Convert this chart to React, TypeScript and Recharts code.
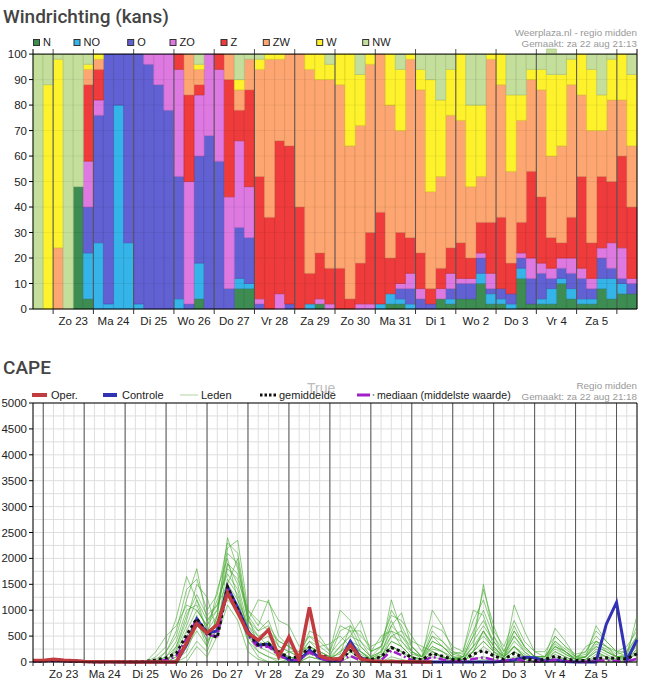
import React from 'react';
import { BarChart, Bar, XAxis, YAxis, ReferenceLine, LineChart, Line, CartesianGrid } from 'recharts';

// ---------- shared ----------
const dayLabels = ['Zo 23', 'Ma 24', 'Di 25', 'Wo 26', 'Do 27', 'Vr 28', 'Za 29', 'Zo 30', 'Ma 31', 'Di 1', 'Wo 2', 'Do 3', 'Vr 4', 'Za 5'];

// ---------- Windrichting (kans), 60 six-hour bars, % of members ----------
const dirKeys = ['N', 'NO', 'O', 'ZO', 'Z', 'ZW', 'W', 'NW'];
const dirN = [0,0,0,0,48,4,0,0,0,0, 0,0,0,0,0,0,4,0,0,0, 8,8,0,0,0,0,0,0,2,0, 0,0,0,0,0,2,2,0,0,0, 4,2,4,4,10,2,2,0,12,2, 2,2,10,4,2,2,8,4,6,6];
const dirNO = [0,0,0,0,0,18,26,2,80,26, 2,0,0,0,4,0,14,0,0,0, 4,2,0,0,0,0,0,2,0,0, 0,0,0,0,2,4,2,2,0,0, 0,2,0,0,4,4,2,2,4,0, 2,6,2,4,2,2,4,8,4,0];
const dirO = [0,0,0,0,0,18,50,98,20,74, 98,96,88,78,48,2,42,68,58,8, 20,18,2,0,0,2,0,0,0,0, 0,0,0,0,0,0,4,6,4,2, 0,4,6,6,6,2,4,4,4,10, 10,4,4,6,8,4,8,4,2,4];
const dirZO = [0,0,0,0,0,18,6,0,0,0, 0,4,12,22,42,48,24,32,36,36, 34,20,2,0,6,0,0,0,2,2, 0,0,2,2,0,0,2,6,4,0, 4,6,2,2,2,6,0,0,2,8, 4,4,4,6,4,4,4,10,12,2];
const dirZ = [0,0,0,0,0,30,12,0,0,0, 0,0,0,0,6,34,4,0,6,46, 12,38,48,36,60,62,40,12,18,14, 16,4,16,28,36,14,20,14,14,6, 8,10,14,8,12,20,28,12,12,34, 26,12,6,16,36,14,28,24,36,28];
const dirZW = [0,0,24,0,0,6,4,0,0,0, 0,0,0,0,0,16,6,0,0,10, 8,12,42,62,32,36,60,80,68,74, 72,60,54,66,62,60,40,70,64,38, 36,52,48,28,18,64,52,36,40,36, 42,32,38,52,32,44,18,32,22,24];
const dirW = [0,88,74,0,0,2,2,0,0,0, 0,0,0,0,0,0,2,0,0,0, 4,0,4,2,2,0,0,6,10,6, 12,36,20,4,0,20,24,2,8,44, 30,18,26,32,28,2,12,30,10,4, 8,32,28,10,16,24,14,16,18,28];
const dirNW = [100,12,2,100,52,4,0,0,0,0, 0,0,0,0,0,0,4,0,0,0, 10,2,2,0,0,0,0,0,0,4, 0,0,8,0,0,0,6,0,6,10, 18,6,0,20,20,0,0,16,16,6, 6,10,8,2,0,6,16,2,0,8];

const dirColors = ['#3d8c52', '#34b4e8', '#6161d4', '#de79e2', '#ef3b3b', '#fea671', '#fdf22c', '#c4df9c'];
const dirStrokes = ['#2f7040', '#2690c0', '#4a4ab0', '#b860bb', '#c42a2a', '#d88a58', '#d8cf1c', '#a4bd80'];
const dirSeries = [dirN, dirNO, dirO, dirZO, dirZ, dirZW, dirW, dirNW];

const windData = dirN.map((_, i) => {
  const row: any = { i, pos: i + 0.5 };
  dirKeys.forEach((k, j) => { row[k] = dirSeries[j][i]; });
  return row;
});

// ---------- CAPE, 60 six-hour points from za 22 18:00 ----------
const capeOper = [30,30,55,35,25,10,5,5,5,0, 0,0,0,0,0,370,740,560,720,1330, 950,560,420,620,100,480,40,1055,120,60, 60,330,60,20,10,10,5,5,0,0, null,null,null,null,null,null,null,null,null,null, null,null,null,null,null,null,null,null,null,null];
const capeControl = [25,25,45,30,20,10,5,5,5,0, 0,0,0,0,0,330,830,560,600,1450, 1050,600,330,340,170,40,30,230,80,20, 30,400,80,20,10,10,5,0,0,0, 0,0,0,0,0,0,20,40,90,80, 20,40,10,0,0,0,730,1150,25,430];
const capeMean = [20,20,30,20,15,10,5,5,5,5, 5,10,40,80,170,520,840,560,470,1450, 1010,560,330,350,200,80,100,280,140,70, 40,220,80,50,100,280,200,80,40,170, 110,50,40,150,220,120,50,170,70,30, 50,110,60,30,30,70,80,70,60,160];
const capeMedian = [15,15,25,15,10,5,0,0,0,0, 0,0,10,40,110,450,820,520,500,1400, 980,520,280,300,130,40,40,190,70,30, 20,120,30,20,30,220,130,30,10,100, 50,10,10,60,90,40,10,60,20,10, 10,40,20,5,5,30,30,20,10,60];

const member01 = [20,20,40,30,20,10,5,0,0,0, 0,0,100,300,850,1650,1200,600,900,2400, 1800,900,600,800,300,200,100,400,200,100, 150,700,300,100,200,1200,600,200,50,400, 300,100,50,300,1500,500,100,300,100,0, 50,300,150,50,50,200,100,50,100,300];
const member02 = [30,25,50,30,20,10,0,0,0,0, 0,0,50,200,500,1200,1800,800,1000,2200, 2350,1000,700,1200,500,300,200,300,150,50, 100,400,200,80,150,700,950,300,100,1000, 700,200,100,500,1400,700,200,600,300,100, 100,650,400,100,100,300,200,100,150,500];
const member03 = [20,20,40,20,20,10,5,0,0,0, 0,0,30,100,300,800,1500,1250,600,1900, 1500,700,400,300,200,100,50,600,500,200, 1000,800,400,100,300,800,400,150,100,600, 400,150,200,1000,900,300,50,1100,600,200, 100,400,200,50,100,700,400,200,100,900];
const member04 = [10,15,30,20,10,5,0,0,0,0, 0,0,0,50,200,600,1000,700,1200,1700, 1400,600,300,400,100,500,100,200,100,50, 300,500,800,200,500,600,300,100,50,300, 200,50,100,400,700,400,100,500,200,50, 50,200,100,20,300,400,300,100,50,400];
const member05 = [40,30,60,40,30,10,5,5,5,0, 0,0,0,0,100,400,900,400,800,1500, 2000,800,1200,1150,800,700,300,500,300,350, 500,300,200,50,100,500,600,400,300,200, 100,50,100,200,600,200,100,300,100,0, 0,500,300,150,200,500,300,200,300,600];
const member06 = [20,20,40,30,20,10,5,0,0,0, 0,0,0,0,50,200,700,500,1400,2000, 1200,500,200,100,50,100,50,200,100,50, 200,300,100,50,100,300,200,100,50,150, 100,50,50,100,300,150,50,200,50,0, 0,100,50,0,0,100,50,0,50,150];
const member07 = [20,20,40,30,20,10,5,0,0,0, 0,0,0,30,150,500,800,400,600,1300, 1000,400,100,0,0,0,0,100,50,0, 0,200,50,0,0,100,50,0,0,100, 50,0,0,50,100,50,0,100,50,0, 0,50,0,0,0,50,0,0,0,50];
const member08 = [30,30,50,30,20,10,5,0,0,0, 0,0,0,0,0,0,300,100,500,1100, 800,200,50,0,0,0,0,0,0,0, 0,100,0,0,0,50,0,0,0,0, 0,0,0,0,50,0,0,0,0,0, 0,0,0,0,0,0,0,0,0,0];
const member09 = [20,20,40,30,20,10,5,0,0,0, 0,0,0,0,300,900,1300,900,1100,1800, 1600,1000,800,600,400,300,100,300,200,100, 600,700,500,300,400,900,800,500,200,700, 600,300,200,800,1200,600,300,800,400,200, 200,500,300,100,200,600,400,200,200,700];
const member10 = [20,20,40,30,20,10,5,0,0,0, 0,0,0,100,400,1000,1100,600,700,1600, 1300,600,400,500,200,100,50,200,100,50, 200,400,300,100,200,500,400,200,100,400, 300,100,100,300,600,300,100,400,200,50, 50,300,200,50,100,300,200,100,100,400];
const member11 = [20,20,40,30,20,10,5,0,0,0, 0,0,0,0,100,300,600,300,900,2100, 1900,800,500,300,100,200,100,300,200,100, 300,500,400,200,300,1000,700,300,100,500, 400,200,150,600,1000,500,200,700,300,100, 100,400,250,100,150,400,300,150,200,500];
const member12 = [20,20,40,30,20,10,5,0,0,0, 0,0,0,0,0,100,400,200,700,1400, 1100,400,200,100,0,50,0,100,50,0, 50,200,100,0,50,300,200,50,0,200, 100,0,0,200,400,200,50,200,100,0, 0,200,100,0,50,200,100,0,0,200];
const member13 = [20,20,40,30,20,10,5,0,0,0, 0,0,200,500,700,1100,1000,700,1000,1900, 1700,800,600,700,400,300,150,400,300,150, 400,600,600,200,300,700,500,300,100,500, 300,150,100,500,800,400,150,500,250,100, 100,350,200,80,100,350,250,100,100,450];
const member14 = [20,20,40,30,20,10,5,0,0,0, 0,0,0,200,600,1400,1600,1000,1300,2300, 2100,900,300,200,100,100,50,150,100,50, 100,250,150,50,100,400,300,100,50,250, 200,100,50,300,500,250,100,300,150,50, 50,250,150,50,50,250,150,50,50,250];
const member15 = [25,25,45,30,20,10,5,0,0,0, 0,0,0,0,250,700,1200,800,1100,1500, 1200,700,500,600,300,200,200,500,400,200, 700,600,200,50,200,600,500,200,100,300, 200,50,50,200,600,300,100,600,300,100, 100,300,200,50,100,400,200,100,100,350];
const member16 = [20,20,40,30,20,10,5,0,0,0, 0,0,0,0,0,300,800,300,900,1200, 1000,500,300,400,200,50,0,200,100,0, 100,300,200,50,100,400,300,100,0,200, 100,50,0,200,400,200,50,300,100,0, 0,150,50,0,0,150,100,0,0,250];

const members = [member01, member02, member03, member04, member05, member06, member07, member08,
  member09, member10, member11, member12, member13, member14, member15, member16];

const capeData = capeControl.map((_, i) => {
  const row: any = { t: i, oper: capeOper[i], control: capeControl[i], mean: capeMean[i], median: capeMedian[i] };
  members.forEach((m, j) => { row['m' + j] = m[i]; });
  return row;
});

// ---------- layout ----------
const FONT = '"Liberation Sans", Arial, sans-serif';
const TITLE_FONT = 'Roboto, "Noto Sans", sans-serif';

const windTicks = Array.from({ length: 29 }, (_, k) => 2 + 2 * k); // 2..58
const windMidnights = Array.from({ length: 15 }, (_, k) => 2 + 4 * k);
const capeTicks = Array.from({ length: 60 }, (_, k) => k);
const capeMidnights = Array.from({ length: 15 }, (_, k) => 1 + 4 * k);
const pctTicks = [0, 10, 20, 30, 40, 50, 60, 70, 80, 90, 100];
const capeYTicks = [0, 500, 1000, 1500, 2000, 2500, 3000, 3500, 4000, 4500, 5000];
const capeGridY = Array.from({ length: 21 }, (_, k) => k * 250);

const WindTick = (props: any) => {
  const { x, y, payload } = props;
  const v = payload.value;
  const ay = y - 5;
  if ((v - 2) % 4 === 0) {
    return <line x1={x} y1={ay} x2={x} y2={ay + 5} stroke="#333" strokeWidth={1} />;
  }
  const d = (v - 4) / 4;
  return (
    <text x={x} y={ay + 16} textAnchor="middle" fontSize={11.5} fill="#222" fontFamily={FONT}>
      {dayLabels[d]}
    </text>
  );
};

const CapeTick = (props: any) => {
  const { x, y, payload } = props;
  const v = payload.value;
  const ay = y - 5;
  const isNoon = (v - 3) % 4 === 0 && v >= 3 && v <= 55;
  return (
    <g>
      <line x1={x} y1={ay} x2={x} y2={ay + 4} stroke="#333" strokeWidth={1} />
      {isNoon ? (
        <text x={x} y={ay + 16} textAnchor="middle" fontSize={11.5} fill="#222" fontFamily={FONT}>
          {dayLabels[(v - 3) / 4]}
        </text>
      ) : null}
    </g>
  );
};

const windLegendX = [33.5, 74, 127.7, 170, 221, 263.3, 316.7, 362.7];

export default function App() {
  return (
    <div style={{ position: 'absolute', left: 0, top: 0, width: 650, height: 688, background: '#fff', overflow: 'hidden' }}>
      <div style={{ position: 'absolute', left: 0, top: 0 }}>
        <BarChart width={650} height={340} data={windData} margin={{ top: 49, right: 13, bottom: 9, left: 0 }}
          barCategoryGap={0} barGap={0}>
          <XAxis xAxisId="time" dataKey="pos" type="number" domain={[0, 60]} allowDataOverflow
            ticks={windTicks} interval={0} tickSize={5} tickMargin={0} tickLine={false}
            axisLine={{ stroke: '#000' }} height={22} tick={WindTick} />
          <XAxis xAxisId="cat" dataKey="i" hide height={0} />
          <YAxis domain={[0, 100]} ticks={pctTicks} interval={0} width={33} tickSize={4} tickMargin={2}
            axisLine={{ stroke: '#000' }} tickLine={{ stroke: '#000' }}
            tick={{ fontSize: 11.5, fill: '#222', fontFamily: FONT }} />
          {dirKeys.map((k, j) => (
            <Bar key={k} xAxisId="cat" dataKey={k} stackId="a" fill={dirColors[j]} stroke={dirStrokes[j]}
              strokeWidth={0.6} isAnimationActive={false} />
          ))}
          {pctTicks.slice(1, 10).map((v) => (
            <ReferenceLine key={'g' + v} xAxisId="time" y={v} stroke="rgba(0,0,0,0.06)" />
          ))}
          {windMidnights.map((v) => (
            <ReferenceLine key={'d' + v} xAxisId="time" x={v} stroke="#555" strokeWidth={1} />
          ))}
          <ReferenceLine xAxisId="time" y={100} stroke="#000" />
          <ReferenceLine xAxisId="time" x={60} stroke="#000" />
        </BarChart>
      </div>

      <div style={{ position: 'absolute', left: 0, top: 345 }}>
        <LineChart width={650} height={343} data={capeData} margin={{ top: 58, right: 13, bottom: 4, left: 0 }}>
          <CartesianGrid stroke="#dedede" horizontalValues={capeGridY} verticalValues={capeTicks} />
          <XAxis dataKey="t" type="number" domain={[0, 59]} ticks={capeTicks} interval={0}
            tickSize={5} tickMargin={0} tickLine={false} axisLine={{ stroke: '#000' }} height={22} tick={CapeTick} />
          <YAxis domain={[0, 5000]} ticks={capeYTicks} interval={0} width={33} tickSize={4} tickMargin={2}
            axisLine={{ stroke: '#000' }} tickLine={{ stroke: '#000' }}
            tick={{ fontSize: 11.5, fill: '#222', fontFamily: FONT }} />
          {capeMidnights.map((v) => (
            <ReferenceLine key={'c' + v} x={v} stroke="#555" strokeWidth={1} />
          ))}
          <ReferenceLine y={5000} stroke="#000" />
          <ReferenceLine x={59} stroke="#000" />
          {members.map((_, j) => (
            <Line key={'m' + j} type="linear" dataKey={'m' + j} stroke="#45a82e" strokeOpacity={0.6}
              strokeWidth={1} dot={false} isAnimationActive={false} />
          ))}
          <Line type="linear" dataKey="control" stroke="#3232b4" strokeWidth={3} dot={false} isAnimationActive={false} />
          <Line type="linear" dataKey="median" stroke="#a020c8" strokeWidth={2.5} strokeDasharray="8 3 2 3"
            dot={false} isAnimationActive={false} />
          <Line type="linear" dataKey="mean" stroke="#111" strokeWidth={3} strokeDasharray="3 3" dot={false}
            isAnimationActive={false} />
          <Line type="linear" dataKey="oper" stroke="#c23b3e" strokeWidth={3.5} dot={false} isAnimationActive={false}
            connectNulls={false} />
        </LineChart>
      </div>

      <svg width={650} height={688} style={{ position: 'absolute', left: 0, top: 0, pointerEvents: 'none' }}>
        <text x={3} y={22.5} fontSize={19} fontWeight={500} fill="#444" fontFamily={TITLE_FONT}>Windrichting (kans)</text>
        <text x={637} y={36} textAnchor="end" fontSize={9.8} fill="#999" fontFamily={FONT}>Weerplaza.nl - regio midden</text>
        <text x={637} y={46.5} textAnchor="end" fontSize={9.8} fill="#999" fontFamily={FONT}>Gemaakt: za 22 aug 21:13</text>
        {dirKeys.map((k, j) => (
          <g key={'lg' + k}>
            <rect x={windLegendX[j]} y={39.5} width={6} height={6} fill={dirColors[j]} stroke="#333" strokeWidth={1} />
            <text x={windLegendX[j] + 9.5} y={46} fontSize={11} fill="#222" fontFamily={FONT}>{k}</text>
          </g>
        ))}

        <text x={3} y={374} fontSize={19} fontWeight={500} fill="#444" fontFamily={TITLE_FONT}>CAPE</text>
        <text x={637} y={389} textAnchor="end" fontSize={9.8} fill="#999" fontFamily={FONT}>Regio midden</text>
        <text x={637} y={399.5} textAnchor="end" fontSize={9.8} fill="#999" fontFamily={FONT}>Gemaakt: za 22 aug 21:18</text>

        <line x1={32} y1={395} x2={47} y2={395} stroke="#c23b3e" strokeWidth={4} />
        <text x={51} y={399} fontSize={11} fill="#222" fontFamily={FONT}>Oper.</text>
        <line x1={103} y1={395} x2={117} y2={395} stroke="#3232b4" strokeWidth={4} />
        <text x={122} y={399} fontSize={11} fill="#222" fontFamily={FONT}>Controle</text>
        <line x1={180} y1={395} x2={198} y2={395} stroke="#b0d4a0" strokeWidth={1} />
        <text x={201} y={399} fontSize={11} fill="#222" fontFamily={FONT}>Leden</text>
        <line x1={260} y1={395} x2={277} y2={395} stroke="#111" strokeWidth={3} strokeDasharray="2.5 2" />
        <text x={279} y={399} fontSize={11} fill="#222" fontFamily={FONT}>gemiddelde</text>
        <text x={307} y={393} fontSize={14} fill="#aaa" fillOpacity={0.8} fontFamily={FONT}>True</text>
        <line x1={357} y1={395} x2={370} y2={395} stroke="#a020c8" strokeWidth={3} />
        <circle cx={373.5} cy={395} r={0.9} fill="#888" />
        <text x={377} y={399} fontSize={10.6} fill="#222" fontFamily={FONT}>mediaan (middelste waarde)</text>
      </svg>
    </div>
  );
}
